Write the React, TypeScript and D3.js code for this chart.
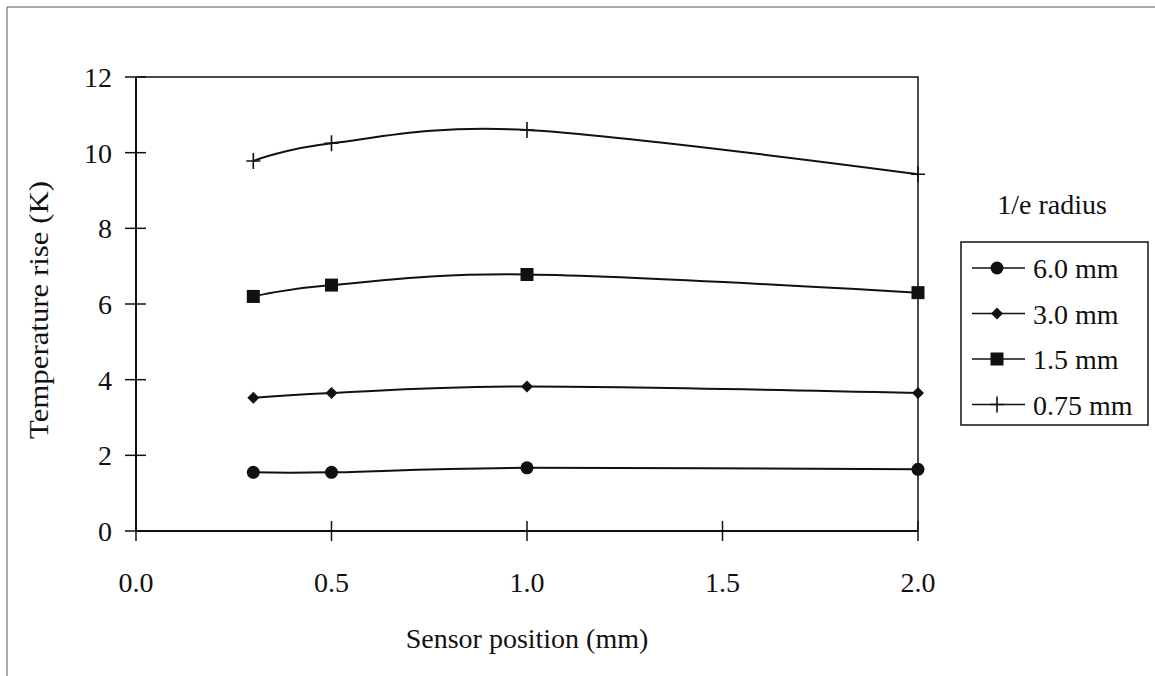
import React from "react";
import * as d3 from "d3";

const positions = [0.3, 0.5, 1.0, 2.0];
const radius60 = [1.55, 1.55, 1.67, 1.63];
const radius30 = [3.52, 3.65, 3.82, 3.65];
const radius15 = [6.2, 6.5, 6.78, 6.3];
const radius075 = [9.78, 10.25, 10.6, 9.43];
const xTicks = [0, 0.5, 1.0, 1.5, 2.0];
const yTicks = [0, 2, 4, 6, 8, 10, 12];

const series = [
  { name: "6.0 mm", values: radius60, marker: "circle" },
  { name: "3.0 mm", values: radius30, marker: "diamond" },
  { name: "1.5 mm", values: radius15, marker: "square" },
  { name: "0.75 mm", values: radius075, marker: "plus" },
];

const FONT = "Liberation Serif, Times New Roman, Times, DejaVu Serif, Noto Serif, serif";
const INK = "#111";
const FS = 28;

const Marker = ({ type, x, y }: { type: string; x: number; y: number }) => {
  if (type === "circle") return <circle cx={x} cy={y} r={6.5} fill={INK} />;
  if (type === "diamond")
    return <path d={`M${x},${y - 6}L${x + 6},${y}L${x},${y + 6}L${x - 6},${y}Z`} fill={INK} />;
  if (type === "square") return <rect x={x - 6.5} y={y - 6.5} width={13} height={13} fill={INK} />;
  return <path d={`M${x - 7},${y}H${x + 7}M${x},${y - 8}V${y + 8}`} stroke={INK} strokeWidth={1.6} />;
};

export default function App() {
  const W = 1155;
  const H = 676;
  const left = 136;
  const right = 918;
  const top = 77;
  const bottom = 531;

  const x = d3.scaleLinear().domain([0, 2]).range([left, right]);
  const y = d3.scaleLinear().domain([0, 12]).range([bottom, top]);

  const line = d3
    .line<number>()
    .x((_, i) => x(positions[i]))
    .y((d) => y(d))
    .curve(d3.curveCatmullRom.alpha(0));

  return (
    <svg width={W} height={H} style={{ position: "absolute", left: 0, top: 0 }} fontFamily={FONT}>
      <rect width={W} height={H} fill="#fff" />
      {/* outer frame */}
      <path d={`M7,${H + 5}V7H${W + 5}`} fill="none" stroke="#555" strokeWidth={1} />

      {/* plot frame */}
      <path d={`M${left},${top}H${right}V${bottom}`} fill="none" stroke={INK} strokeWidth={1.5} />
      <line x1={left} x2={right} y1={bottom} y2={bottom} stroke={INK} strokeWidth={2} />
      <line x1={left} x2={left} y1={top} y2={bottom} stroke={INK} strokeWidth={2} />

      {/* y ticks */}
      {yTicks.map((t) => (
        <g key={"y" + t}>
          <line x1={left - 11} x2={left + 10} y1={y(t)} y2={y(t)} stroke={INK} strokeWidth={1.5} />
          <text x={112} y={y(t) + 10} textAnchor="end" fontSize={FS} fill={INK}>
            {t}
          </text>
        </g>
      ))}

      {/* x ticks */}
      {xTicks.map((t) => (
        <g key={"x" + t}>
          <line x1={x(t)} x2={x(t)} y1={bottom - 10} y2={bottom + 10} stroke={INK} strokeWidth={1.5} />
          <text x={x(t)} y={592} textAnchor="middle" fontSize={FS} fill={INK}>
            {d3.format(".1f")(t)}
          </text>
        </g>
      ))}

      {/* axis titles */}
      <text x={(left + right) / 2} y={648} textAnchor="middle" fontSize={FS} fill={INK}>
        Sensor position (mm)
      </text>
      <text
        transform={`translate(48,310) rotate(-90)`}
        textAnchor="middle"
        fontSize={FS}
        textLength={258}
        lengthAdjust="spacingAndGlyphs"
        fill={INK}
      >
        Temperature rise (K)
      </text>

      {/* series */}
      {series.map((s) => (
        <g key={s.name}>
          <path d={line(s.values) ?? ""} fill="none" stroke={INK} strokeWidth={2} />
          {s.values.map((v, i) => (
            <Marker key={i} type={s.marker} x={x(positions[i])} y={y(v)} />
          ))}
        </g>
      ))}

      {/* legend */}
      <text x={1052} y={214} textAnchor="middle" fontSize={FS} fill={INK}>
        1/e radius
      </text>
      <rect x={961} y={242} width={187} height={183} fill="#fff" stroke={INK} strokeWidth={1.5} />
      {series.map((s, i) => {
        const ly = 268 + i * 45.5;
        return (
          <g key={"lg" + s.name}>
            <line x1={972} x2={1025} y1={ly} y2={ly} stroke={INK} strokeWidth={1.5} />
            <Marker type={s.marker} x={997} y={ly} />
            <text x={1033} y={ly + 10} fontSize={FS} fill={INK}>
              {s.name}
            </text>
          </g>
        );
      })}
    </svg>
  );
}
